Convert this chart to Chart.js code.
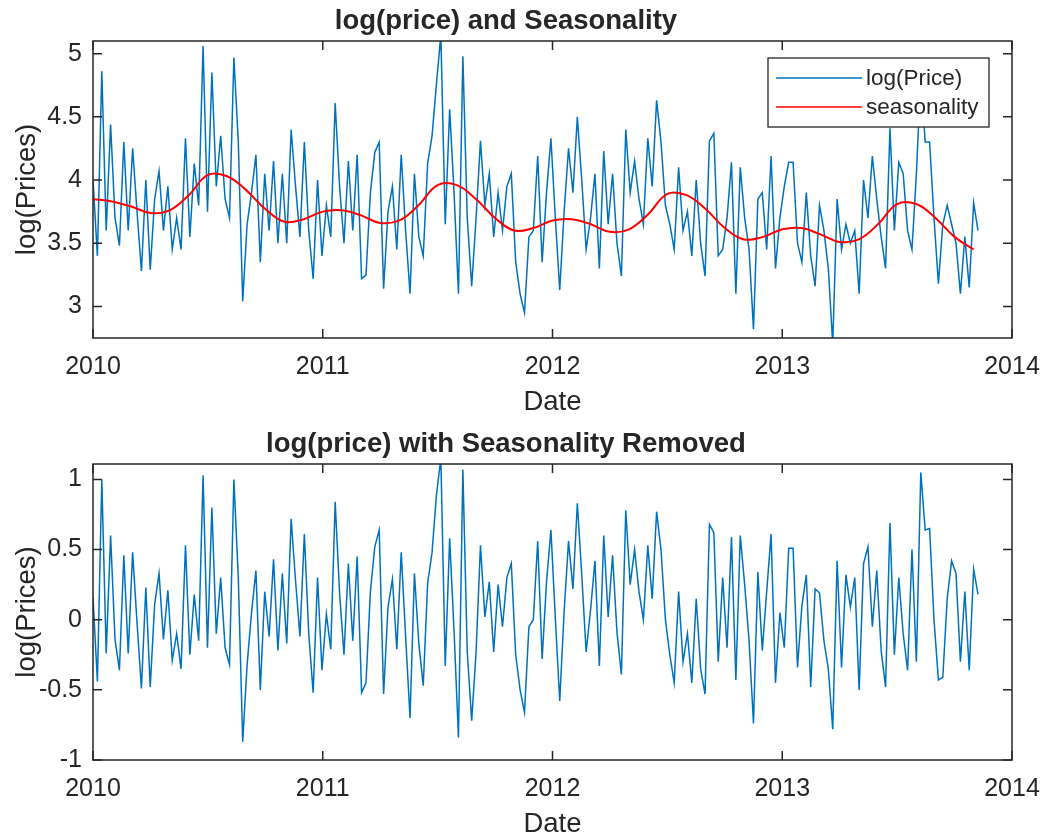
<!DOCTYPE html>
<html>
<head>
<meta charset="utf-8">
<script src="https://cdn.jsdelivr.net/npm/chart.js@4.4.1/dist/chart.umd.min.js"></script>
<style>
    html, body { margin: 0; padding: 0; background: #fff; overflow: hidden; }
    #wrap { position: relative; width: 1044px; height: 837px; }
    canvas { position: absolute; left: 0; }
    #topChart { top: 0; }
    #bottomChart { top: 418px; }
</style>
</head>
<body>
<div id="wrap">
    <canvas id="topChart" width="1044" height="420"></canvas>
    <canvas id="bottomChart" width="1044" height="424"></canvas>
</div>
<script>
// weekly samples, starting 1 Jan 2010
const START_YEAR = 2010;

const logPrice = [
    4.00, 3.40, 4.86, 3.60, 4.44, 3.70, 3.48, 4.30, 3.60, 4.25,
    3.75, 3.28, 4.00, 3.29, 3.85, 4.07, 3.60, 3.95, 3.45, 3.70,
    3.45, 4.33, 3.55, 4.13, 3.80, 5.06, 3.75, 4.85, 3.95, 4.35,
    3.85, 3.70, 4.97, 4.30, 3.04, 3.65, 3.90, 4.20, 3.35, 4.05,
    3.60, 4.15, 3.50, 4.05, 3.50, 4.40, 3.95, 3.55, 4.30, 3.60,
    3.22, 4.00, 3.40, 3.80, 3.55, 4.61, 3.95, 3.50, 4.15, 3.60,
    4.20, 3.22, 3.25, 3.90, 4.22, 4.30, 3.14, 3.75, 3.95, 3.45,
    4.20, 3.60, 3.10, 4.05, 3.55, 3.40, 4.13, 4.35, 4.76, 5.15,
    3.65, 4.56, 3.90, 3.10, 4.98, 3.70, 3.16, 3.70, 4.31, 3.80,
    4.05, 3.55, 3.90, 3.60, 3.95, 4.05, 3.35, 3.10, 2.95, 3.55,
    3.60, 4.19, 3.35, 3.90, 4.33, 3.70, 3.13, 3.75, 4.25, 3.90,
    4.50, 4.00, 3.45, 3.70, 4.05, 3.30, 4.23, 3.65, 4.05, 3.50,
    3.24, 4.40, 3.90, 4.15, 3.85, 3.65, 4.33, 3.95, 4.63, 4.30,
    3.80, 3.65, 3.45, 4.10, 3.60, 3.75, 3.40, 4.00, 3.50, 3.24,
    4.31, 4.37, 3.40, 3.45, 3.70, 4.14, 3.10, 4.10, 3.70, 3.45,
    2.82, 3.85, 3.90, 3.45, 4.19, 3.30, 3.70, 3.95, 4.14, 4.14,
    3.50, 3.35, 3.90, 3.40, 3.16, 3.80, 3.60, 3.30, 2.70, 3.85,
    3.45, 3.65, 3.50, 3.60, 3.10, 4.00, 3.70, 4.19, 3.85, 3.55,
    3.30, 4.41, 3.60, 4.14, 4.05, 3.60, 3.45, 4.05, 4.83, 4.30,
    4.30, 3.70, 3.18, 3.65, 3.80, 3.65, 3.50, 3.10, 3.55, 3.15,
    3.82, 3.60
];

const residual = [
    0.16, -0.44, 1.00, -0.24, 0.60, -0.14, -0.36, 0.46, -0.24, 0.48,
    -0.02, -0.49, 0.23, -0.48, 0.11, 0.33, -0.14, 0.21, -0.29, -0.10,
    -0.35, 0.53, -0.25, 0.18, -0.15, 1.03, -0.20, 0.80, -0.10, 0.30,
    -0.20, -0.32, 1.00, 0.30, -0.87, -0.32, 0.05, 0.35, -0.50, 0.20,
    -0.12, 0.43, -0.22, 0.33, -0.17, 0.72, 0.28, -0.12, 0.61, -0.10,
    -0.52, 0.30, -0.36, 0.04, -0.21, 0.84, 0.19, -0.25, 0.40, -0.15,
    0.45, -0.52, -0.45, 0.20, 0.52, 0.64, -0.53, 0.09, 0.29, -0.21,
    0.48, -0.12, -0.70, 0.33, -0.17, -0.47, 0.26, 0.48, 0.89, 1.15,
    -0.33, 0.58, -0.08, -0.84, 1.07, -0.23, -0.72, -0.23, 0.53, 0.02,
    0.27, -0.23, 0.25, -0.05, 0.30, 0.40, -0.25, -0.50, -0.66, -0.05,
    0.00, 0.56, -0.28, 0.27, 0.64, 0.01, -0.58, 0.06, 0.56, 0.22,
    0.83, 0.32, -0.23, 0.07, 0.42, -0.33, 0.60, 0.02, 0.46, -0.09,
    -0.39, 0.78, 0.25, 0.50, 0.20, 0.00, 0.53, 0.15, 0.77, 0.50,
    0.00, -0.25, -0.45, 0.20, -0.30, -0.10, -0.45, 0.15, -0.35, -0.53,
    0.68, 0.62, -0.30, 0.30, -0.20, 0.59, -0.43, 0.60, 0.25, -0.15,
    -0.74, 0.34, -0.22, 0.20, 0.61, -0.45, 0.05, -0.20, 0.51, 0.51,
    -0.34, 0.10, 0.32, -0.48, 0.22, 0.19, -0.15, -0.35, -0.78, 0.42,
    -0.34, 0.32, 0.09, 0.30, -0.50, 0.40, 0.52, -0.05, 0.35, -0.22,
    -0.48, 0.69, -0.25, 0.30, -0.10, -0.36, 0.50, -0.30, 1.05, 0.64,
    0.65, 0.00, -0.43, -0.41, 0.15, 0.42, 0.33, -0.30, 0.20, -0.36,
    0.36, 0.18
];

// seasonal fit, one value per month start
const seasonality = [
    3.85, 3.83, 3.79, 3.74, 3.76, 3.88, 4.04, 4.03, 3.92, 3.77, 3.67, 3.69,
    3.75, 3.76, 3.72, 3.66, 3.68, 3.80, 3.96, 3.96, 3.85, 3.70, 3.60, 3.62,
    3.68, 3.69, 3.65, 3.59, 3.61, 3.73, 3.89, 3.88, 3.77, 3.62, 3.53, 3.55,
    3.61, 3.62, 3.57, 3.51, 3.53, 3.65, 3.81, 3.81, 3.70, 3.55, 3.45
];

const xTicks = [2010, 2011, 2012, 2013, 2014];
const yTicksTop = [3, 3.5, 4, 4.5, 5];
const yTicksBottom = [-1, -0.5, 0, 0.5, 1];

const FONT = "'Liberation Sans', Arial, Helvetica, sans-serif";
const AXIS_COLOR = '#262626';
const BLUE = '#0072BD';
const RED = '#FF0000';
const TICK_LEN = 9;

function weeklyPoints(values) {
    return values.map((v, i) => ({ x: START_YEAR + i * 7 / 365.25, y: v }));
}

function monthlyPoints(values) {
    return values.map((v, i) => ({ x: START_YEAR + i / 12, y: v }));
}

// MATLAB style box with inward ticks on all four sides
const axesBoxPlugin = {
    id: 'axesBox',
    afterDatasetsDraw(chart) {
        const { ctx, chartArea: { left, right, top, bottom }, scales: { x, y } } = chart;
        ctx.save();
        ctx.strokeStyle = AXIS_COLOR;
        ctx.lineWidth = 1.5;
        ctx.beginPath();
        x.ticks.forEach((tick) => {
            const px = x.getPixelForValue(tick.value);
            ctx.moveTo(px, bottom);
            ctx.lineTo(px, bottom - TICK_LEN);
            ctx.moveTo(px, top);
            ctx.lineTo(px, top + TICK_LEN);
        });
        y.ticks.forEach((tick) => {
            const py = y.getPixelForValue(tick.value);
            ctx.moveTo(left, py);
            ctx.lineTo(left + TICK_LEN, py);
            ctx.moveTo(right, py);
            ctx.lineTo(right - TICK_LEN, py);
        });
        ctx.stroke();
        ctx.strokeRect(left, top, right - left, bottom - top);
        ctx.restore();
    }
};

// legend drawn above the lines, with a white box like MATLAB
const boxedLegendPlugin = {
    id: 'boxedLegend',
    afterDatasetsDraw(chart) {
        const { ctx, chartArea } = chart;
        const w = 221, h = 69;
        const bx = chartArea.right - 23 - w;
        const by = chartArea.top + 17;
        ctx.save();
        ctx.fillStyle = '#fff';
        ctx.fillRect(bx, by, w, h);
        ctx.strokeStyle = AXIS_COLOR;
        ctx.lineWidth = 1.3;
        ctx.strokeRect(bx, by, w, h);
        ctx.font = `22.5px ${FONT}`;
        ctx.textBaseline = 'middle';
        ctx.fillStyle = AXIS_COLOR;
        chart.data.datasets.forEach((ds, i) => {
            const ly = by + 20 + i * 29;
            ctx.strokeStyle = ds.borderColor;
            ctx.lineWidth = 1.5;
            ctx.beginPath();
            ctx.moveTo(bx + 8, ly);
            ctx.lineTo(bx + 94, ly);
            ctx.stroke();
            ctx.fillText(ds.label, bx + 98, ly + 1);
        });
        ctx.restore();
    }
};

function buildOptions({ title, titlePadding, yMin, yMax, yTicks }) {
    return {
        responsive: false,
        animation: false,
        events: [],
        layout: { padding: { left: 0, right: 32, top: 0, bottom: 0 } },
        plugins: {
            legend: { display: false },
            tooltip: { enabled: false },
            title: {
                display: true,
                text: title,
                color: AXIS_COLOR,
                font: { family: FONT, size: 27.5, weight: 'bold', lineHeight: 1.2 },
                padding: titlePadding
            }
        },
        scales: {
            x: {
                type: 'linear',
                min: 2010,
                max: 2014,
                afterBuildTicks: (scale) => { scale.ticks = xTicks.map((v) => ({ value: v })); },
                afterFit: (scale) => {
                    scale.height = 82;
                    scale.paddingLeft = 0;
                    scale.paddingRight = 0;
                },
                ticks: {
                    color: AXIS_COLOR,
                    font: { family: FONT, size: 25 },
                    padding: 14,
                    maxRotation: 0,
                    autoSkip: false,
                    callback: (value) => String(value)
                },
                grid: { display: false, drawTicks: false },
                border: { display: false },
                title: {
                    display: true,
                    text: 'Date',
                    color: AXIS_COLOR,
                    font: { family: FONT, size: 27.5, lineHeight: 1.2 },
                    padding: { top: 0, bottom: 1.5 }
                }
            },
            y: {
                type: 'linear',
                min: yMin,
                max: yMax,
                afterBuildTicks: (scale) => { scale.ticks = yTicks.map((v) => ({ value: v })); },
                afterFit: (scale) => { scale.width = 93; },
                ticks: {
                    color: AXIS_COLOR,
                    font: { family: FONT, size: 25 },
                    padding: 11,
                    callback: (value) => String(value)
                },
                grid: { display: false, drawTicks: false },
                border: { display: false },
                title: {
                    display: true,
                    text: 'log(Prices)',
                    color: AXIS_COLOR,
                    font: { family: FONT, size: 27.5, lineHeight: 1.2 },
                    padding: { top: 10.5, bottom: 0 }
                }
            }
        }
    };
}

function createSeasonalityChart(ctx) {
    return new Chart(ctx, {
        type: 'line',
        data: {
            datasets: [{
                label: 'log(Price)',
                data: weeklyPoints(logPrice),
                borderColor: BLUE,
                borderWidth: 1.5,
                pointRadius: 0,
                tension: 0,
                order: 1
            }, {
                label: 'seasonality',
                data: monthlyPoints(seasonality),
                borderColor: RED,
                borderWidth: 2,
                pointRadius: 0,
                tension: 0.4,
                order: 0
            }]
        },
        options: buildOptions({
            title: 'log(price) and Seasonality',
            titlePadding: { top: 5, bottom: 3 },
            yMin: 2.75,
            yMax: 5.1,
            yTicks: yTicksTop
        }),
        plugins: [boxedLegendPlugin, axesBoxPlugin]
    });
}

function createResidualChart(ctx) {
    return new Chart(ctx, {
        type: 'line',
        data: {
            datasets: [{
                label: 'log(price) with Seasonality Removed',
                data: weeklyPoints(residual),
                borderColor: BLUE,
                borderWidth: 1.5,
                pointRadius: 0,
                tension: 0
            }]
        },
        options: buildOptions({
            title: 'log(price) with Seasonality Removed',
            titlePadding: { top: 9.5, bottom: 3.5 },
            yMin: -1,
            yMax: 1.11,
            yTicks: yTicksBottom
        }),
        plugins: [axesBoxPlugin]
    });
}

createSeasonalityChart(document.getElementById('topChart'));
createResidualChart(document.getElementById('bottomChart'));
</script>
</body>
</html>
